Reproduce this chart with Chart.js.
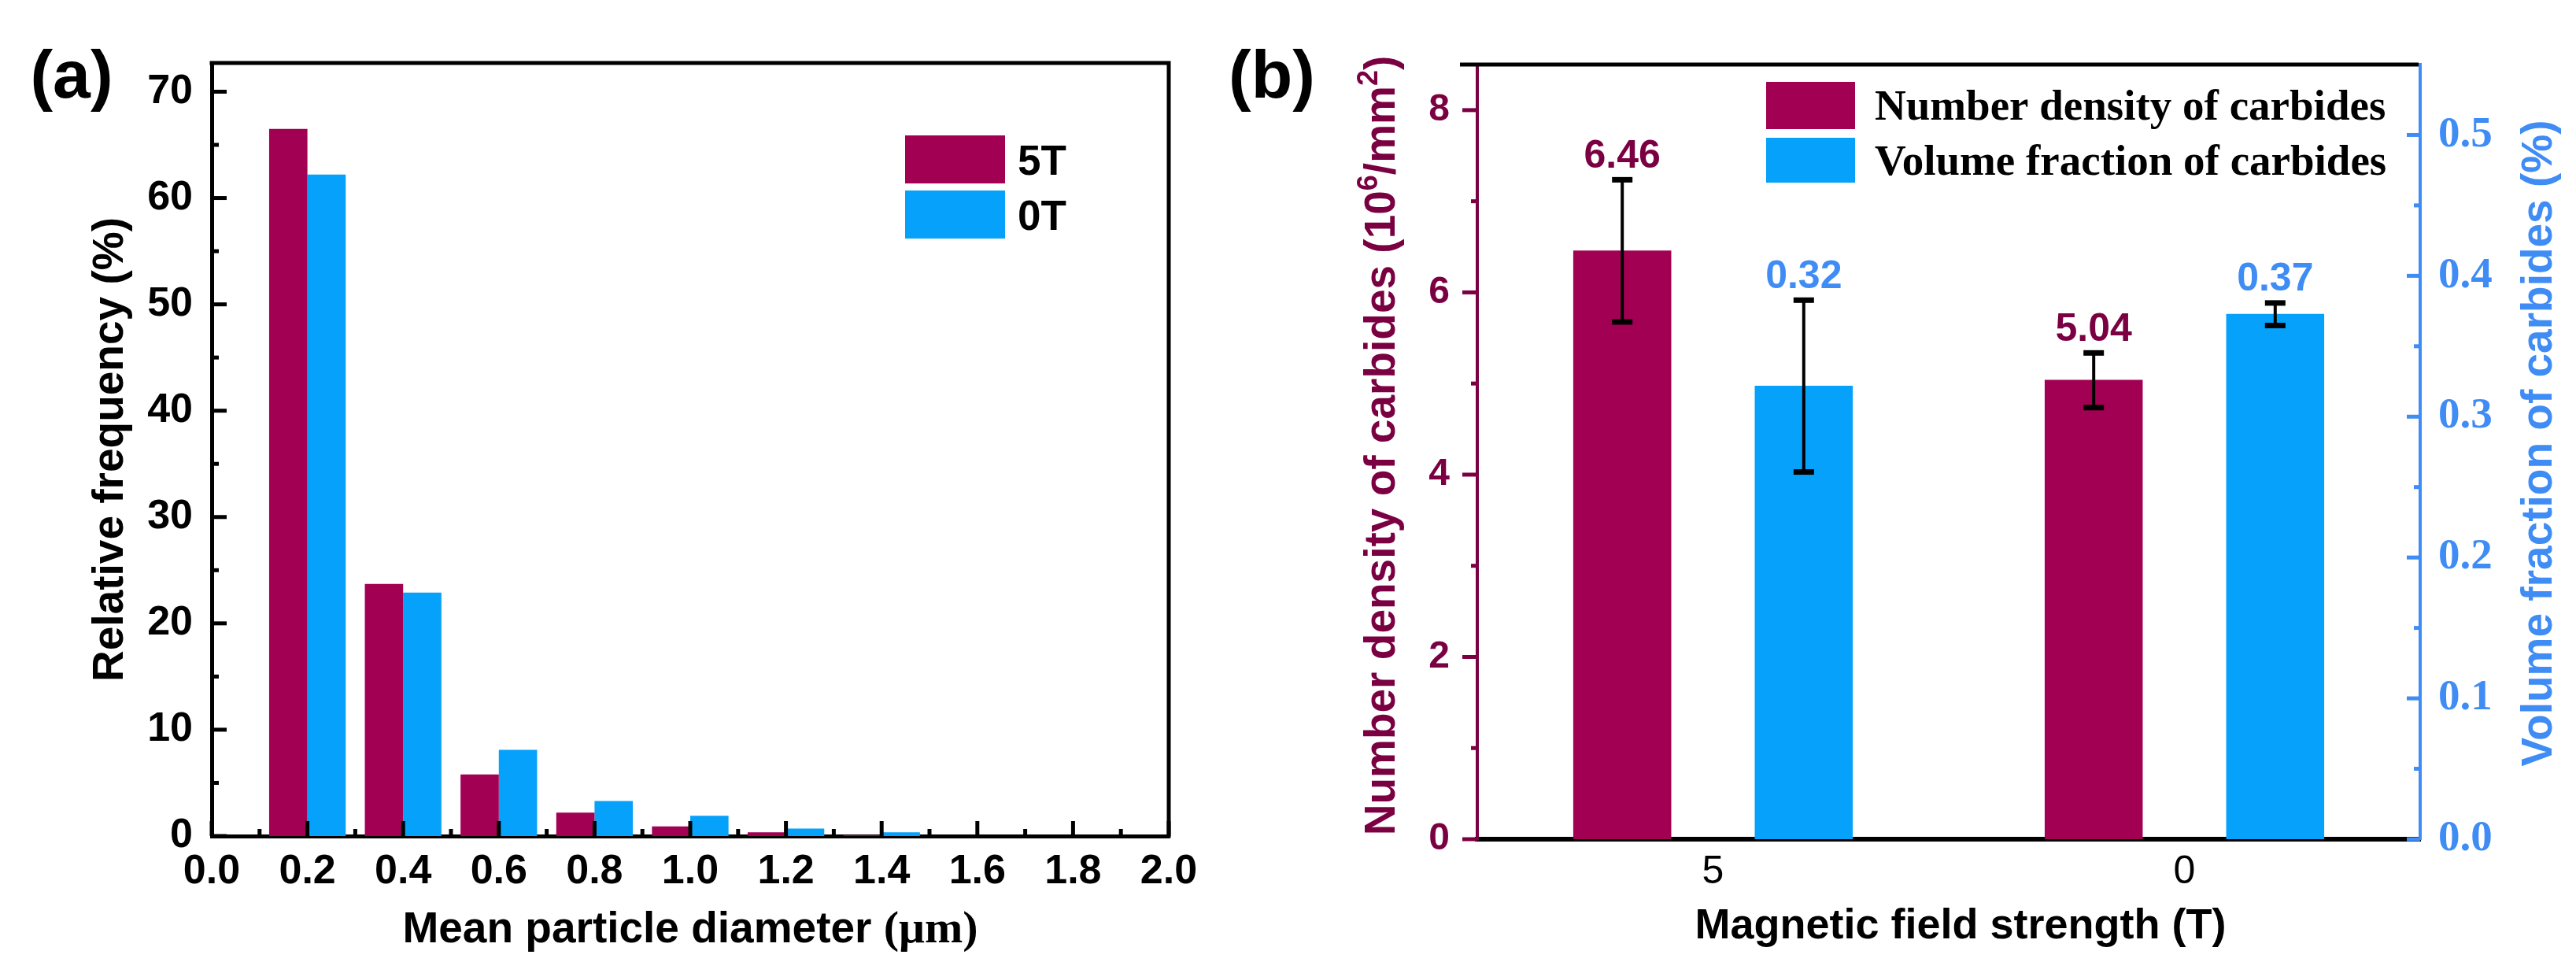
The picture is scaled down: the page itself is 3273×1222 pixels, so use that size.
<!DOCTYPE html>
<html><head><meta charset="utf-8">
<script src="https://cdn.jsdelivr.net/npm/chart.js@4"></script>
<style>
html,body{margin:0;padding:0;background:#fff;overflow:hidden;width:3273px;height:1222px}
#wrapA{position:absolute;left:0;top:0;width:1540px;height:1222px}
#wrapB{position:absolute;left:1540px;top:0;width:1733px;height:1222px}
canvas{display:block}
</style></head><body>
<div id="wrapA"><canvas id="cA" width="1540" height="1222" style="width:1540px;height:1222px"></canvas></div>
<div id="wrapB"><canvas id="cB" width="1733" height="1222" style="width:1733px;height:1222px"></canvas></div>
<script>
// ---------- DATA ----------
// Panel (a): particle size distribution
const sizeBins = [0.2, 0.4, 0.6, 0.8, 1.0, 1.2, 1.4];
const freq5T   = [66.5, 23.7, 5.8, 2.2, 0.9, 0.35, 0.1];
const freq0T   = [62.2, 22.9, 8.1, 3.3, 1.9, 0.7, 0.35];
const seriesNamesA = ['5T', '0T'];
const aXTicks = [0.0, 0.2, 0.4, 0.6, 0.8, 1.0, 1.2, 1.4, 1.6, 1.8, 2.0];
const aYTicks = [0, 10, 20, 30, 40, 50, 60, 70];

// Panel (b): number density & volume fraction
const fieldLabels = ['5', '0'];
const numberDensity    = [6.46, 5.04];
const numberDensityErr = [0.78, 0.30];
const volumeFraction    = [0.322, 0.373];
const volumeFractionErr = [0.061, 0.008];
const seriesNamesB = ['Number density of carbides', 'Volume fraction of carbides'];
const bLeftTicks  = [0, 2, 4, 6, 8];
const bRightTicks = [0.0, 0.1, 0.2, 0.3, 0.4, 0.5];

// ---------- STYLE ----------
const MAG = '#A20052', BLUE = '#05A1FA';
const MAG_TXT = '#7A0042', BLUE_TXT = '#3F8CF4';
const SANS = "'Liberation Sans', Arial, sans-serif";
const SERIF = "'Liberation Serif', 'Times New Roman', serif";
const F = (size, weight, fam) => `${weight} ${size}px ${fam}`;

function tickMarks(ctx, chart, scale, majors, opt) {
  const ca = chart.chartArea;
  const minors = [];
  for (let i = 0; i < majors.length - 1; i++) minors.push((majors[i] + majors[i + 1]) / 2);
  ctx.save();
  ctx.strokeStyle = opt.color; ctx.lineWidth = opt.width; ctx.lineCap = 'butt';
  const draw = (v, len) => {
    const p = scale.getPixelForValue(v);
    ctx.beginPath();
    if (opt.side === 'bottom') { ctx.moveTo(p, ca.bottom); ctx.lineTo(p, ca.bottom - len * opt.dir); }
    else if (opt.side === 'left') { ctx.moveTo(ca.left, p); ctx.lineTo(ca.left + len * opt.dir, p); }
    else { ctx.moveTo(ca.right, p); ctx.lineTo(ca.right - len * opt.dir, p); }
    ctx.stroke();
  };
  majors.forEach(v => draw(v, opt.len));
  minors.forEach(v => draw(v, opt.minorLen));
  ctx.restore();
}

function drawPieces(ctx, pieces, cx, cy, rot) {
  ctx.save();
  ctx.translate(cx, cy);
  ctx.rotate(rot);
  let total = 0;
  pieces.forEach(p => { ctx.font = p.font; p.w = ctx.measureText(p.t).width; total += p.w; });
  let x = -total / 2;
  ctx.textBaseline = 'alphabetic';
  ctx.textAlign = 'left';
  pieces.forEach(p => {
    ctx.font = p.font; ctx.fillStyle = p.color || '#000';
    ctx.fillText(p.t, x, p.base - (p.raise || 0));
    x += p.w;
  });
  ctx.restore();
}

// ---------- CHART A ----------
const plugA = {
  id: 'plugA',
  afterDraw(chart) {
    const ctx = chart.ctx, ca = chart.chartArea;
    ctx.save();
    ctx.strokeStyle = '#000'; ctx.lineWidth = 5;
    ctx.beginPath();
    ctx.moveTo(ca.left - 2.5, ca.top); ctx.lineTo(ca.right, ca.top); ctx.lineTo(ca.right, ca.bottom + 2.5);
    ctx.stroke();
    ctx.restore();
    tickMarks(ctx, chart, chart.scales.x, aXTicks, {side: 'bottom', dir: 1, len: 19, minorLen: 9, width: 5, color: '#000'});
    tickMarks(ctx, chart, chart.scales.y, aYTicks, {side: 'left', dir: 1, len: 19, minorLen: 9, width: 5, color: '#000'});
    ctx.save();
    ctx.font = F(86, 'bold', SANS); ctx.fillStyle = '#000'; ctx.textAlign = 'center'; ctx.textBaseline = 'alphabetic';
    ctx.fillText('(a)', 91, 124);
    ctx.restore();
    drawPieces(ctx, [{t: 'Relative frequency (%)', font: F(55, 'bold', SANS), base: 20}], 136, 571, -Math.PI / 2);
    drawPieces(ctx, [
      {t: 'Mean particle diameter ', font: F(55, 'bold', SANS), base: 20},
      {t: '(\u03bcm)', font: F(58, 'bold', SERIF), base: 20}
    ], 877, 1177, 0);
    const boxes = [[172, 233], [242, 303]];
    chart.data.datasets.forEach((ds, i) => {
      ctx.save();
      ctx.fillStyle = ds.backgroundColor;
      ctx.fillRect(1150, boxes[i][0], 127, boxes[i][1] - boxes[i][0]);
      ctx.font = F(53, 'bold', SANS); ctx.fillStyle = '#000'; ctx.textBaseline = 'alphabetic';
      ctx.fillText(ds.label, 1293, (boxes[i][0] + boxes[i][1]) / 2 + 19);
      ctx.restore();
    });
  }
};

new Chart(document.getElementById('cA'), {
  type: 'bar',
  data: {
    datasets: [
      {label: seriesNamesA[0], data: sizeBins.map((x, i) => ({x, y: freq5T[i]})), backgroundColor: MAG, borderWidth: 0},
      {label: seriesNamesA[1], data: sizeBins.map((x, i) => ({x, y: freq0T[i]})), backgroundColor: BLUE, borderWidth: 0}
    ]
  },
  options: {
    responsive: false, animation: false, devicePixelRatio: 1,
    categoryPercentage: 0.8, barPercentage: 1.0,
    layout: {padding: {top: 80, right: 55, left: 0, bottom: 0}},
    plugins: {legend: {display: false}, tooltip: {enabled: false}},
    scales: {
      x: {
        type: 'linear', min: 0, max: 2, offset: false, z: 1,
        afterBuildTicks: s => { s.ticks = aXTicks.map(v => ({value: v})); },
        ticks: {callback: v => Number(v).toFixed(1), font: {family: SANS, size: 52, weight: 'bold'}, color: '#000', padding: 14, maxRotation: 0, autoSkip: false},
        grid: {display: false, drawTicks: false, offset: false},
        border: {display: true, color: '#000', width: 5},
        afterFit: s => { s.height = 160; }
      },
      y: {
        min: 0, max: 72.7, z: 1,
        afterBuildTicks: s => { s.ticks = aYTicks.map(v => ({value: v})); },
        ticks: {font: {family: SANS, size: 52, weight: 'bold'}, color: '#000', padding: 24},
        grid: {display: false, drawTicks: false},
        border: {display: true, color: '#000', width: 5},
        afterFit: s => { s.width = 269; }
      }
    }
  },
  plugins: [plugA]
});

// ---------- CHART B ----------
const errsB = [numberDensityErr, volumeFractionErr];
const labelColorsB = [MAG_TXT, BLUE_TXT];
const plugB = {
  id: 'plugB',
  afterDraw(chart) {
    const ctx = chart.ctx, ca = chart.chartArea;
    ctx.save();
    ctx.strokeStyle = '#000'; ctx.lineWidth = 5;
    ctx.beginPath(); ctx.moveTo(ca.left - 22, ca.top); ctx.lineTo(ca.right - 2, ca.top); ctx.stroke();
    ctx.restore();
    tickMarks(ctx, chart, chart.scales.y, bLeftTicks, {side: 'left', dir: -1, len: 19, minorLen: 8, width: 5, color: MAG_TXT});
    tickMarks(ctx, chart, chart.scales.y2, bRightTicks, {side: 'right', dir: 1, len: 17, minorLen: 8, width: 5, color: BLUE_TXT});
    chart.data.datasets.forEach((ds, i) => {
      const meta = chart.getDatasetMeta(i);
      const ys = chart.scales[meta.yAxisID];
      meta.data.forEach((el, j) => {
        const v = ds.data[j], e = errsB[i][j];
        const yT = ys.getPixelForValue(v + e), yB = ys.getPixelForValue(v - e);
        ctx.save();
        ctx.strokeStyle = '#000'; ctx.lineWidth = 4;
        ctx.beginPath(); ctx.moveTo(el.x, yT); ctx.lineTo(el.x, yB); ctx.stroke();
        ctx.fillStyle = '#000';
        ctx.fillRect(el.x - 13, yT - 3, 26, 7);
        ctx.fillRect(el.x - 13, yB - 3, 26, 7);
        ctx.font = F(50, 'bold', SANS); ctx.fillStyle = labelColorsB[i];
        ctx.textAlign = 'center'; ctx.textBaseline = 'alphabetic';
        ctx.fillText(v.toFixed(2), el.x, yT - 15);
        ctx.restore();
      });
    });
    const rows = [[104, 164], [175, 232]];
    chart.data.datasets.forEach((ds, i) => {
      ctx.save();
      ctx.fillStyle = ds.backgroundColor;
      ctx.fillRect(704, rows[i][0], 113, rows[i][1] - rows[i][0]);
      ctx.font = F(55, 'bold', SERIF); ctx.fillStyle = '#000'; ctx.textBaseline = 'alphabetic';
      ctx.fillText(ds.label, 842, (rows[i][0] + rows[i][1]) / 2 + 18);
      ctx.restore();
    });
    ctx.save();
    ctx.font = F(86, 'bold', SANS); ctx.fillStyle = '#000'; ctx.textAlign = 'center'; ctx.textBaseline = 'alphabetic';
    ctx.fillText('(b)', 76, 124);
    ctx.restore();
    const tf = F(55, 'bold', SANS), sf = F(36, 'bold', SANS);
    drawPieces(ctx, [
      {t: 'Number density of carbides (10', font: tf, base: 20, color: MAG_TXT},
      {t: '6', font: sf, base: 20, raise: 22, color: MAG_TXT},
      {t: '/mm', font: tf, base: 20, color: MAG_TXT},
      {t: '2', font: sf, base: 20, raise: 22, color: MAG_TXT},
      {t: ')', font: tf, base: 20, color: MAG_TXT}
    ], 212, 566, -Math.PI / 2);
    drawPieces(ctx, [{t: 'Volume fraction of carbides (%)', font: tf, base: 20, color: BLUE_TXT}], 1682, 563, -Math.PI / 2);
    drawPieces(ctx, [{t: 'Magnetic field strength (T)', font: F(54, 'bold', SANS), base: 20}], 951, 1172, 0);
  }
};

new Chart(document.getElementById('cB'), {
  type: 'bar',
  data: {
    labels: fieldLabels,
    datasets: [
      {label: seriesNamesB[0], data: numberDensity, backgroundColor: MAG, borderWidth: 0, yAxisID: 'y'},
      {label: seriesNamesB[1], data: volumeFraction, backgroundColor: BLUE, borderWidth: 0, yAxisID: 'y2'}
    ]
  },
  options: {
    responsive: false, animation: false, devicePixelRatio: 1,
    categoryPercentage: 0.77, barPercentage: 0.54,
    layout: {padding: {top: 82, right: 0, left: 0, bottom: 0}},
    plugins: {legend: {display: false}, tooltip: {enabled: false}},
    scales: {
      x: {
        z: 1,
        ticks: {font: {family: SANS, size: 50, weight: 'normal'}, color: '#000', padding: 12, maxRotation: 0},
        grid: {display: false, drawTicks: false},
        border: {display: true, color: '#000', width: 6},
        afterFit: s => { s.height = 156; }
      },
      y: {
        position: 'left', min: 0, max: 8.5, z: 1,
        afterBuildTicks: s => { s.ticks = bLeftTicks.map(v => ({value: v})); },
        ticks: {font: {family: SANS, size: 48, weight: 'bold'}, color: MAG_TXT, padding: 35},
        grid: {display: false, drawTicks: false},
        border: {display: true, color: MAG_TXT, width: 4},
        afterFit: s => { s.width = 337; }
      },
      y2: {
        position: 'right', min: 0, max: 0.55, z: 1,
        afterBuildTicks: s => { s.ticks = bRightTicks.map(v => ({value: v})); },
        ticks: {callback: v => Number(v).toFixed(1), font: {family: SERIF, size: 55, weight: 'bold'}, color: BLUE_TXT, padding: 23},
        grid: {display: false, drawTicks: false},
        border: {display: true, color: BLUE_TXT, width: 4},
        afterFit: s => { s.width = 198; }
      }
    }
  },
  plugins: [plugB]
});
</script>
</body></html>
